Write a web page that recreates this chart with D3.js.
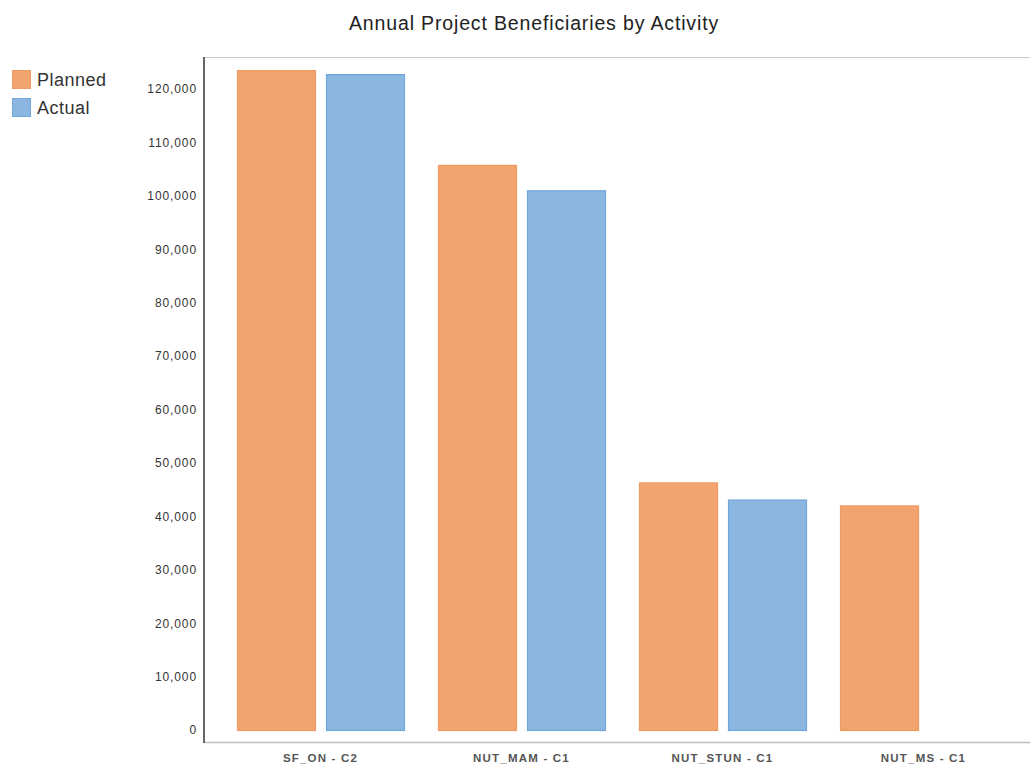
<!DOCTYPE html>
<html>
<head>
<meta charset="utf-8">
<script src="https://cdn.jsdelivr.net/npm/d3@7"></script>
<style>
  html, body { margin: 0; padding: 0; background: #fff; }
  svg { display: block; font-family: "Liberation Sans", Arial, sans-serif; }
</style>
</head>
<body>
<svg id="chart" width="1030" height="767"></svg>
<script>
// Activities and beneficiary counts
const categories = ["SF_ON - C2", "NUT_MAM - C1", "NUT_STUN - C1", "NUT_MS - C1"];
const seriesNames = ["Planned", "Actual"];
const planned = [123550, 105800, 46350, 42050];
const actual = [122800, 101050, 43150, null];
const yTicks = [0, 10000, 20000, 30000, 40000, 50000, 60000, 70000, 80000, 90000, 100000, 110000, 120000];
const title = "Annual Project Beneficiaries by Activity";

const colors = { Planned: "#f2a46f", Actual: "#8ab6e0" };
const strokes = { Planned: "#ee9a62", Actual: "#73a7dc" };

const svg = d3.select("#chart");
const plot = { left: 204, right: 1030, top: 57, bottom: 742 };

const y = d3.scaleLinear().domain([-2246, 126000]).range([plot.bottom, plot.top]);
const x0 = d3.scaleBand().domain(categories).range([220, 1024]).padding(0);
const x1 = d3.scaleBand().domain(seriesNames).range([17, 185]).paddingInner(0.1124).paddingOuter(0);

const rows = categories.map((c, i) => ({ cat: c, Planned: planned[i], Actual: actual[i] }));

// Title
svg.append("text")
  .attr("x", 534).attr("y", 30)
  .attr("text-anchor", "middle")
  .attr("font-size", 19.5)
  .attr("letter-spacing", "0.85px")
  .attr("fill", "#222")
  .text(title);

// Frame lines
svg.append("line")
  .attr("x1", plot.left).attr("x2", plot.right)
  .attr("y1", plot.top + 0.5).attr("y2", plot.top + 0.5)
  .attr("stroke", "#c8c8c8").attr("stroke-width", 1);
svg.append("line")
  .attr("x1", plot.left).attr("x2", plot.right)
  .attr("y1", plot.bottom + 0.5).attr("y2", plot.bottom + 0.5)
  .attr("stroke", "#bdbdbd").attr("stroke-width", 1.5);

// Bars
const groups = svg.append("g").selectAll("g")
  .data(rows).join("g")
  .attr("transform", d => `translate(${x0(d.cat)},0)`);

groups.selectAll("rect")
  .data(d => seriesNames.filter(s => d[s] != null).map(s => ({ key: s, value: d[s] })))
  .join("rect")
  .attr("x", d => x1(d.key) + 0.5)
  .attr("y", d => y(d.value) + 0.5)
  .attr("width", x1.bandwidth() - 1)
  .attr("height", d => y(0) - y(d.value))
  .attr("fill", d => colors[d.key])
  .attr("stroke", d => strokes[d.key])
  .attr("stroke-width", 1.2);

// Y axis
const yAxis = d3.axisLeft(y)
  .tickValues(yTicks)
  .tickSize(0)
  .tickPadding(7)
  .tickFormat(d3.format(","));
const gy = svg.append("g")
  .attr("transform", `translate(${plot.left},0)`)
  .call(yAxis);
gy.select(".domain").remove();
gy.selectAll("text")
  .attr("font-size", 12)
  .attr("letter-spacing", "0.9px")
  .attr("font-family", "'Liberation Sans', Arial, sans-serif")
  .attr("fill", "#333");
svg.append("line")
  .attr("x1", plot.left).attr("x2", plot.left)
  .attr("y1", plot.top).attr("y2", plot.bottom + 1)
  .attr("stroke", "#666").attr("stroke-width", 2);

// X axis labels
const xAxis = d3.axisBottom(x0).tickSize(0).tickPadding(12);
const gx = svg.append("g")
  .attr("transform", `translate(0,${plot.bottom})`)
  .call(xAxis);
gx.select(".domain").remove();
gx.selectAll("text")
  .attr("font-size", 11.5)
  .attr("font-weight", "bold")
  .attr("letter-spacing", "1.2px")
  .attr("font-family", "'Liberation Sans', Arial, sans-serif")
  .attr("fill", "#555");

// Legend
const legend = svg.append("g").attr("transform", "translate(12,70)");
const items = legend.selectAll("g").data(seriesNames).join("g")
  .attr("transform", (d, i) => `translate(0,${i * 28})`);
items.append("rect")
  .attr("x", 0.5).attr("y", 0.5)
  .attr("width", 18).attr("height", 18)
  .attr("fill", d => colors[d])
  .attr("stroke", d => strokes[d]);
items.append("text")
  .attr("x", 25).attr("y", 16)
  .attr("font-size", 18)
  .attr("letter-spacing", "0.5px")
  .attr("fill", "#333")
  .text(d => d);
</script>
</body>
</html>
